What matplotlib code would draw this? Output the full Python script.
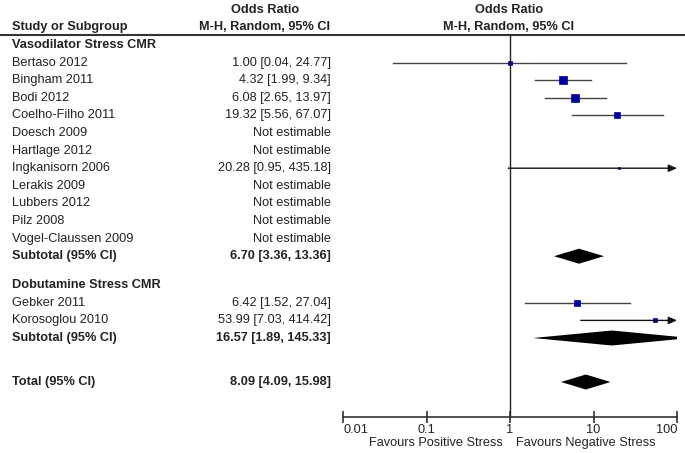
import numpy as np
import matplotlib
matplotlib.use("Agg")
from matplotlib import pyplot as plt
from matplotlib.patches import Polygon

plt.rcParams['font.family'] = ['Liberation Sans', 'DejaVu Sans']

# --- data ---
vaso_names = ["Bertaso 2012", "Bingham 2011", "Bodi 2012", "Coelho-Filho 2011",
              "Doesch 2009", "Hartlage 2012", "Ingkanisorn 2006", "Lerakis 2009",
              "Lubbers 2012", "Pilz 2008", "Vogel-Claussen 2009"]
vaso_or = [1.00, 4.32, 6.08, 19.32, None, None, 20.28, None, None, None, None]
vaso_lo = [0.04, 1.99, 2.65, 5.56, None, None, 0.95, None, None, None, None]
vaso_hi = [24.77, 9.34, 13.97, 67.07, None, None, 435.18, None, None, None, None]
vaso_wt = [3, 7, 8, 6, 0, 0, 2, 0, 0, 0, 0]   # relative box size
vaso_sub = (6.70, 3.36, 13.36)

dobu_names = ["Gebker 2011", "Korosoglou 2010"]
dobu_or = [6.42, 53.99]
dobu_lo = [1.52, 7.03]
dobu_hi = [27.04, 414.42]
dobu_wt = [5, 3.5]
dobu_sub = (16.57, 1.89, 145.33)

total = (8.09, 4.09, 15.98)

ticks = [0.01, 0.1, 1, 10, 100]
tick_labels = ["0.01", "0.1", "1", "10", "100"]
left_label = "Favours Positive Stress"
right_label = "Favours Negative Stress"

W, H = 685, 453
TXT = '#222222'
FS = 9.2
STEP = 17.6

fig = plt.figure(figsize=(W / 100, H / 100), dpi=100)
# text layer in pixel units
at = fig.add_axes([0, 0, 1, 1])
at.set_xlim(0, W)
at.set_ylim(H, 0)
at.axis('off')

# forest layer, log scale
x0, x1 = 343, 677
ax = fig.add_axes([x0 / W, 0, (x1 - x0) / W, 1])
ax.set_xscale('log')
ax.set_xlim(0.01, 100)
ax.set_ylim(H, 0)
ax.patch.set_alpha(0)
for s in ['top', 'left', 'right']:
    ax.spines[s].set_visible(False)
axis_y = 416.5
ax.spines['bottom'].set_position(('data', axis_y))
ax.spines['bottom'].set_color('#333333')
ax.spines['bottom'].set_linewidth(1.2)
ax.set_yticks([])
ax.set_xticks(ticks)
ax.set_xticklabels(tick_labels)
ax.minorticks_off()
ax.tick_params(axis='x', direction='inout', length=9, width=1.2, color='#333333',
               labelsize=FS, labelcolor=TXT, pad=1)
lbls = ax.get_xticklabels()
lbls[0].set_ha('left')
lbls[-1].set_ha('right')

COL_NAME = 12
COL_VAL = 331
COL_PLOT = 509


def fmt(o, l, h):
    if o is None:
        return "Not estimable"
    return f"{o:.2f} [{l:.2f}, {h:.2f}]"


def study(y, name, o, l, h, w):
    at.text(COL_NAME, y, name, fontsize=FS, color=TXT, va='center')
    at.text(COL_VAL, y, fmt(o, l, h), fontsize=FS, color=TXT, va='center', ha='right')
    if o is None:
        return
    if h > 100:
        ax.annotate('', xy=(100, y), xytext=(l, y),
                    arrowprops=dict(arrowstyle='-|>,head_length=0.5,head_width=0.22',
                                    color='#111111', lw=1, shrinkA=0, shrinkB=0))
    else:
        ax.plot([l, h], [y, y], color='#444444', lw=1)
    ax.plot([o], [y], marker='s', ms=w * 0.75, color='#0000A0', mec='#0000A0', mew=0.5)


def diamond(y, o, l, h, name):
    at.text(COL_NAME, y, name, fontsize=FS, color=TXT, va='center', weight='bold')
    at.text(COL_VAL, y, f"{o:.2f} [{l:.2f}, {h:.2f}]", fontsize=FS, color=TXT,
            va='center', ha='right', weight='bold')
    ax.add_patch(Polygon([(l, y), (o, y - 7.5), (h, y), (o, y + 7.5)],
                         closed=True, color='black', lw=0))


# header
at.text(COL_VAL - 66, 10, "Odds Ratio", fontsize=FS, color=TXT, weight='bold', ha='center', va='center')
at.text(COL_VAL - 66, 27, "M-H, Random, 95% CI", fontsize=FS, color=TXT, weight='bold', ha='center', va='center')
at.text(COL_NAME, 27, "Study or Subgroup", fontsize=FS, color=TXT, weight='bold', va='center')
at.text(COL_PLOT, 10, "Odds Ratio", fontsize=FS, color=TXT, weight='bold', ha='center', va='center')
at.text(COL_PLOT, 27, "M-H, Random, 95% CI", fontsize=FS, color=TXT, weight='bold', ha='center', va='center')
at.plot([0, W], [35, 35], color='#333333', lw=1.5)

y = 45
at.text(COL_NAME, y, "Vasodilator Stress CMR", fontsize=FS, color=TXT, weight='bold', va='center')
for i in range(len(vaso_names)):
    y += STEP
    study(y, vaso_names[i], vaso_or[i], vaso_lo[i], vaso_hi[i], vaso_wt[i])
y += STEP
diamond(y, *vaso_sub, "Subtotal (95% CI)")

y += STEP + 11
at.text(COL_NAME, y, "Dobutamine Stress CMR", fontsize=FS, color=TXT, weight='bold', va='center')
y += 0.4
for i in range(len(dobu_names)):
    y += STEP
    study(y, dobu_names[i], dobu_or[i], dobu_lo[i], dobu_hi[i], dobu_wt[i])
y += STEP
diamond(y, *dobu_sub, "Subtotal (95% CI)")

y += STEP * 2.5
diamond(y, *total, "Total (95% CI)")

# line of no effect
ax.plot([1, 1], [35, axis_y], color='#222222', lw=1)

at.text(503, 443, left_label, fontsize=FS, color=TXT, ha='right', va='center')
at.text(516, 443, right_label, fontsize=FS, color=TXT, ha='left', va='center')

fig.savefig("out.png", dpi=100)
